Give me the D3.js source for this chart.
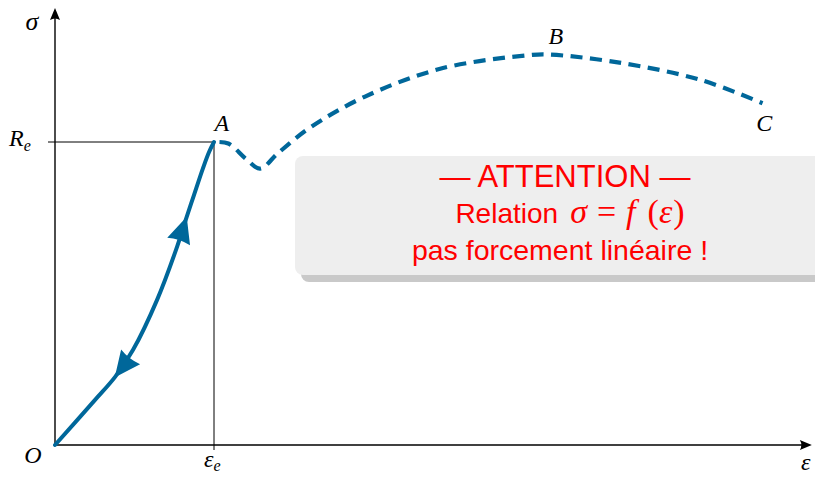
<!DOCTYPE html>
<html>
<head>
<meta charset="utf-8">
<script src="https://cdn.jsdelivr.net/npm/d3@7"></script>
<style>
  html, body { margin: 0; padding: 0; background: #fff; }
  svg { display: block; }
</style>
</head>
<body>
<svg id="chart" width="815" height="477"></svg>
<script>
// Strain (ε, in units of εe) and stress (σ, in units of Re)
const elasticEps = [0, 0.252, 0.377, 0.491, 0.642, 0.761, 0.818, 0.874, 0.931, 0.969, 1];
const elasticSig = [0, 0.149, 0.224, 0.314, 0.479, 0.644, 0.736, 0.825, 0.914, 0.967, 1];

const plasticEps = [1, 1.09, 1.20, 1.29, 1.40, 1.60, 1.95, 2.44, 2.99, 3.10, 3.55, 4.06, 4.45];
const plasticSig = [1, 0.995, 0.945, 0.912, 0.962, 1.046, 1.150, 1.244, 1.287, 1.289, 1.262, 1.205, 1.128];

// Loading / unloading arrows along the elastic branch (fraction of its length, direction)
const arrowAt  = [0.26, 0.77];
const arrowDir = [-1, 1];

// Point labels
const pointNames = ["A", "B", "C"];
const pointEps   = [1.05, 3.15, 4.46];
const pointSig   = [1.035, 1.325, 1.035];

const epsMax = 4.76, sigMax = 1.442;

const svg = d3.select("#chart");
const x = d3.scaleLinear().domain([0, 1]).range([55, 214]);
const y = d3.scaleLinear().domain([0, 1]).range([445, 142]);

const blue = "#00679a";
const serif = "'Liberation Serif', 'DejaVu Serif', serif";
const sans = "'Liberation Sans', Arial, sans-serif";

// Guide lines to the yield point
svg.append("line")
  .attr("x1", x(0) - 7).attr("y1", y(1)).attr("x2", x(1)).attr("y2", y(1))
  .attr("stroke", "#000").attr("stroke-width", 1);
svg.append("line")
  .attr("x1", x(1)).attr("y1", y(1)).attr("x2", x(1)).attr("y2", y(0) + 5)
  .attr("stroke", "#000").attr("stroke-width", 1);

// Axes
function axisArrow(tx, ty, angle) {
  svg.append("path")
    .attr("d", "M0,0 L-12,-5 Q-9,0 -12,5 Z")
    .attr("transform", `translate(${tx},${ty}) rotate(${angle})`)
    .attr("fill", "#000");
}
svg.append("line")
  .attr("x1", x(0)).attr("y1", y(0)).attr("x2", x(epsMax) - 4).attr("y2", y(0))
  .attr("stroke", "#000").attr("stroke-width", 1.4);
axisArrow(x(epsMax), y(0), 0);
svg.append("line")
  .attr("x1", x(0)).attr("y1", y(0)).attr("x2", x(0)).attr("y2", y(sigMax) + 4)
  .attr("stroke", "#000").attr("stroke-width", 1.4);
axisArrow(x(0), y(sigMax), -90);

// Curves
const line = d3.line().x(d => x(d[0])).y(d => y(d[1])).curve(d3.curveCatmullRom.alpha(0.5));

const elastic = svg.append("path")
  .datum(elasticEps.map((e, i) => [e, elasticSig[i]]))
  .attr("d", line)
  .attr("fill", "none").attr("stroke", blue).attr("stroke-width", 4)
  .attr("stroke-linecap", "round");

svg.append("path")
  .datum(plasticEps.map((e, i) => [e, plasticSig[i]]))
  .attr("d", line)
  .attr("fill", "none").attr("stroke", blue).attr("stroke-width", 4.2)
  .attr("stroke-dasharray", "12 7.5")
  .attr("stroke-dashoffset", 14);

// Arrowheads on the elastic branch
const node = elastic.node();
const total = node.getTotalLength();
arrowAt.forEach((f, i) => {
  const L = f * total;
  const p0 = node.getPointAtLength(Math.max(0, L - 4));
  const p1 = node.getPointAtLength(Math.min(total, L + 4));
  let ang = Math.atan2(p1.y - p0.y, p1.x - p0.x) * 180 / Math.PI;
  if (arrowDir[i] < 0) ang += 180;
  const tip = node.getPointAtLength(L);
  svg.append("path")
    .attr("d", "M0,0 Q-12,-5.5 -26,-12 Q-23,0 -26,12 Q-12,5.5 0,0 Z")
    .attr("transform", `translate(${tip.x},${tip.y}) rotate(${ang})`)
    .attr("fill", blue);
});

// Axis and point labels
function label(txt, px, py, anchor, size) {
  return svg.append("text")
    .attr("x", px).attr("y", py)
    .attr("text-anchor", anchor || "middle")
    .attr("font-family", serif).attr("font-style", "italic")
    .attr("font-size", size || 24)
    .text(txt);
}
label("σ", x(0) - 23, 30, "middle", 26);
label("O", x(0) - 22, y(0) + 18);
label("ε", x(epsMax) - 6, 470);

const re = label("R", 9, y(1) + 4, "start");
re.append("tspan").attr("font-size", 16).attr("dy", 5).text("e");
const ee = label("ε", x(1) - 10, 467, "start");
ee.append("tspan").attr("font-size", 16).attr("dy", 4).text("e");

pointNames.forEach((n, i) => label(n, x(pointEps[i]), y(pointSig[i])));

// Warning box with drop shadow
const bx = 295, by = 156, bw = 560, bh = 119;
svg.append("rect")
  .attr("x", bx + 6).attr("y", by + 7).attr("width", bw).attr("height", bh)
  .attr("rx", 8).attr("fill", "#c9c9c9");
svg.append("rect")
  .attr("x", bx).attr("y", by).attr("width", bw).attr("height", bh)
  .attr("rx", 8).attr("fill", "#eeeeee");

const red = "#ff0000";
svg.append("text")
  .attr("x", 565).attr("y", 187).attr("text-anchor", "middle")
  .attr("font-family", sans).attr("font-size", 31).attr("fill", red)
  .text("— ATTENTION —");

const rel = svg.append("text")
  .attr("x", 570).attr("y", 223).attr("text-anchor", "middle")
  .attr("font-family", sans).attr("font-size", 28).attr("fill", red);
const mathIt = (t, dx) => rel.append("tspan").attr("dx", dx).attr("font-family", serif).attr("font-style", "italic").attr("font-size", 34).text(t);
const mathUp = (t, dx) => rel.append("tspan").attr("dx", dx).attr("font-family", serif).attr("font-size", 34).text(t);
rel.append("tspan").text("Relation");
mathIt("σ", 12);
mathUp("=", 10);
mathIt("f", 10);
mathUp("(", 12);
mathIt("ε", 0);
mathUp(")", 1);

svg.append("text")
  .attr("x", 560).attr("y", 260).attr("text-anchor", "middle")
  .attr("font-family", sans).attr("font-size", 28.5).attr("fill", red)
  .text("pas forcement linéaire !");
</script>
</body>
</html>
